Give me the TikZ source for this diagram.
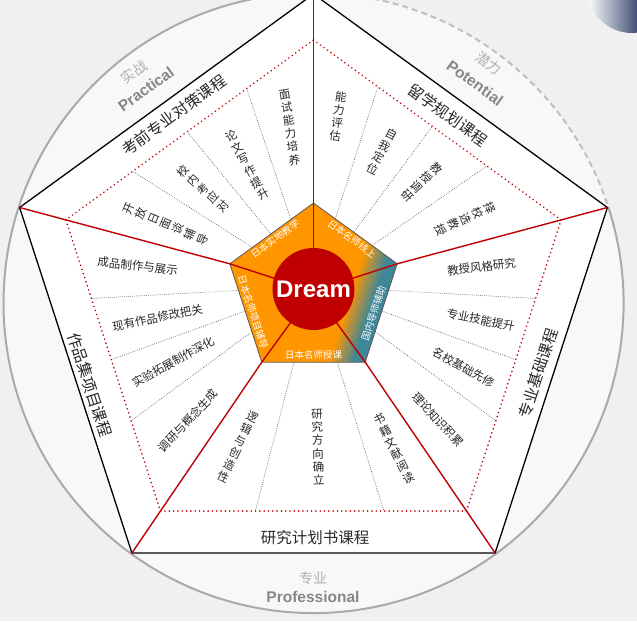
\documentclass[tikz,border=0pt]{standalone}
\usepackage{fontspec}
\setmainfont{Liberation Sans}
\newfontfamily\cjk{Noto Sans CJK SC}
\usetikzlibrary{calc}
\definecolor{bgC}{RGB}{240,239,241}
\definecolor{inC}{RGB}{248,248,249}
\definecolor{orangeC}{RGB}{255,150,0}
\definecolor{tealC}{RGB}{62,135,155}
\definecolor{redC}{RGB}{192,0,0}
\definecolor{navyC}{RGB}{55,70,110}
\definecolor{txtC}{RGB}{40,40,40}
\definecolor{ringC}{RGB}{170,170,172}
\definecolor{zhgray}{RGB}{175,175,178}
\definecolor{engray}{RGB}{135,135,138}
% #1 name, #2 style, #3-#4 from edge, #5-#6 to edge, #7 fraction, #8 position, #9 text
\newcommand\seclabel[9]{%
  \path let \p1=($(#3)!#7!(#4)$), \p2=($(#5)!#7!(#6)$),
            \n1={atan2(\y2-\y1,\x2-\x1)} in
    node[#2, rotate=\n1] (#1) at ($(\p1)!#8!(\p2)$) {#9};}
\begin{document}
\begin{tikzpicture}[x=1pt,y=-1pt,
  redline/.style={draw=redC, line width=1.4pt},
  divline/.style={draw=black!70, line width=0.6pt, dash pattern=on 0.7pt off 1.3pt},
  reddots/.style={draw=redC, line width=1.8pt, line cap=round, dash pattern=on 0.01pt off 4.3pt},
  vstyle/.style={font=\cjk\fontsize{11.5}{13.3}\selectfont, align=center, inner sep=0pt, text=txtC, rotate=90},
  hstyle/.style={font=\cjk\fontsize{11.5}{13.3}\selectfont, inner sep=0pt, text=txtC},
  course/.style={font=\cjk\fontsize{15.5}{18}\selectfont, inner sep=0pt, text=txtC},
  inlab/.style={font=\cjk\fontsize{9.5}{11}\selectfont, inner sep=0pt, text=white},
  zhlab/.style={font=\cjk\fontsize{14}{16}\selectfont, inner sep=0pt, text=zhgray},
  enlab/.style={font=\bfseries\fontsize{15.5}{18}\selectfont, inner sep=0pt, text=engray}]
\useasboundingbox (0,0) rectangle (637,621);
\clip (0,0) rectangle (637,621);
\fill[bgC] (0,0) rectangle (637,621);
% geometry
\coordinate (C) at (313.5,303);
\coordinate (IC) at (313.5,291);
\coordinate (O0) at (313.5,-6);
\coordinate (O1) at (607.4,207.5);
\coordinate (O2) at (495.1,553);
\coordinate (O3) at (131.9,553);
\coordinate (O4) at (19.6,207.5);
\coordinate (I0) at (313.5,203);
\coordinate (I1) at (397.2,263.8);
\coordinate (I2) at (365.2,362.2);
\coordinate (I3) at (261.8,362.2);
\coordinate (I4) at (229.8,263.8);
\foreach \k in {0,...,4}{\coordinate (D\k) at ($(I\k)!0.78!(O\k)$);}
% big circle
\fill[inC] (C) circle[radius=310];
% corner ball
\begin{scope}
  \clip (632,-12) circle[radius=45];
  \shade[left color=white, right color=navyC] (587,-60) rectangle (640,40);
\end{scope}
\draw[ringC, line width=2pt] (C) ++(-18:310) arc[start angle=-18, end angle=270, radius=310];
\draw[ringC!75, line width=2pt, dash pattern=on 6pt off 4pt] (C) ++(-90:310) arc[start angle=-90, end angle=-18, radius=310];
% outer pentagon
\filldraw[fill=white, draw=black, line width=1.3pt] (O0)--(O1)--(O2)--(O3)--(O4)--cycle;
% dotted pentagon
\draw[reddots] (D0)--(D1)--(D2)--(D3)--(D4)--cycle;
% dividers
\foreach \f in {0.27,0.49,0.73} \draw[divline] ($(I4)!\f!(I0)$) -- ($(D4)!\f!(D0)$);
\foreach \f in {0.26,0.48,0.70} \draw[divline] ($(I0)!\f!(I1)$) -- ($(D0)!\f!(D1)$);
\foreach \f in {0.27,0.48,0.69} \draw[divline] ($(I1)!\f!(I2)$) -- ($(D1)!\f!(D2)$);
\foreach \f in {0.31,0.73} \draw[divline] ($(I3)!\f!(I2)$) -- ($(D3)!\f!(D2)$);
\foreach \f in {0.27,0.48,0.69} \draw[divline] ($(I4)!\f!(I3)$) -- ($(D4)!\f!(D3)$);
% inner pentagon with gradient
\fill[orangeC] (I0)--(I1)--(I2)--(I3)--(I4)--cycle;
\begin{scope}
  \clip (I0)--(I1)--(I2)--(I3)--(I4)--cycle;
  \begin{scope}[shift={(I2)}, rotate=162]
    \foreach \a in {0,2,...,44}{
      \pgfmathsetmacro\pct{max(0,min(100,(34-\a)/24*100))}
      \fill[tealC!\pct!orangeC] (\a,-20) rectangle (\a+2.3,130);
    }
  \end{scope}
\end{scope}
\draw[black!65, line width=0.8pt] (I0)--(I1)--(I2)--(I3)--(I4)--cycle;
% red spokes
\foreach \k in {0,...,4} \draw[redline] (IC) -- (I\k) -- (O\k);
% Dream
\node[circle, fill=redC, minimum size=82pt, inner sep=0pt, text=white,
      font=\bfseries\fontsize{24}{26}\selectfont] (dream) at (313.5,289) {Dream};
% inner labels
\node[inlab, rotate=36]  (n1) at (275,239) {日本实地教学};
\node[inlab, rotate=-36] (n2) at (352,239) {日本名师线上};
\node[inlab, rotate=72]  (n3) at (373.5,313) {国内导师辅助};
\node[inlab]             (n4) at (313.5,355) {日本名师授课};
\node[inlab, rotate=-72] (n5) at (253,312) {日本名师项目辅导};
% top-left sector
\seclabel{a1}{vstyle}{D4}{D0}{I4}{I0}{0.135}{0.47}{开\\放\\日\\面\\谈\\辅\\导}
\seclabel{a2}{vstyle}{D4}{D0}{I4}{I0}{0.38}{0.42}{校\\内\\考\\应\\对}
\seclabel{a3}{vstyle}{D4}{D0}{I4}{I0}{0.61}{0.47}{论\\文\\写\\作\\提\\升}
\seclabel{a4}{vstyle}{D4}{D0}{I4}{I0}{0.865}{0.43}{面\\试\\能\\力\\培\\养}
% top-right sector
\seclabel{b1}{vstyle}{D0}{D1}{I0}{I1}{0.13}{0.36}{能\\力\\评\\估}
\seclabel{b2}{vstyle}{D0}{D1}{I0}{I1}{0.37}{0.38}{自\\我\\定\\位}
\seclabel{b3}{vstyle}{D0}{D1}{I0}{I1}{0.59}{0.39}{教\\授\\调\\研}
\seclabel{b4}{vstyle}{D0}{D1}{I0}{I1}{0.85}{0.42}{择\\校\\选\\教\\授}
% right sector
\seclabel{c1}{hstyle}{I1}{I2}{D1}{D2}{0.135}{0.57}{教授风格研究}
\seclabel{c2}{hstyle}{I1}{I2}{D1}{D2}{0.375}{0.68}{专业技能提升}
\seclabel{c3}{hstyle}{I1}{I2}{D1}{D2}{0.585}{0.67}{名校基础先修}
\seclabel{c4}{hstyle}{I1}{I2}{D1}{D2}{0.845}{0.61}{理论知识积累}
% bottom sector
\seclabel{d1}{vstyle}{I3}{I2}{D3}{D2}{0.155}{0.57}{逻\\辑\\与\\创\\造\\性}
\seclabel{d2}{vstyle}{I3}{I2}{D3}{D2}{0.52}{0.57}{研\\究\\方\\向\\确\\立}
\seclabel{d3}{vstyle}{I3}{I2}{D3}{D2}{0.865}{0.58}{书\\籍\\文\\献\\阅\\读}
% left sector
\seclabel{e1}{hstyle}{D4}{D3}{I4}{I3}{0.135}{0.38}{成品制作与展示}
\seclabel{e2}{hstyle}{D4}{D3}{I4}{I3}{0.375}{0.40}{现有作品修改把关}
\seclabel{e3}{hstyle}{D4}{D3}{I4}{I3}{0.585}{0.41}{实验拓展制作深化}
\seclabel{e4}{hstyle}{D4}{D3}{I4}{I3}{0.845}{0.38}{调研与概念生成}
% course labels
\node[course, rotate=36]  (k1) at (174,115) {考前专业对策课程};
\node[course, rotate=-36] (k2) at (448,115) {留学规划课程};
\node[course, rotate=72]  (k3) at (538,373) {专业基础课程};
\node[course]             (k4) at (315,538) {研究计划书课程};
\node[course, rotate=-72] (k5) at (90,385) {作品集项目课程};
% outer labels
\node[zhlab, rotate=36]  (p1) at (134,72) {实战};
\node[enlab, rotate=36]  (p2) at (146,89) {Practical};
\node[zhlab, rotate=-36] (p3) at (488.5,63.5) {潜力};
\node[enlab, rotate=-36] (p4) at (475,83) {Potential};
\node[zhlab]             (p5) at (313,578) {专业};
\node[enlab]             (p6) at (313,597) {Professional};
\end{tikzpicture}
\end{document}
